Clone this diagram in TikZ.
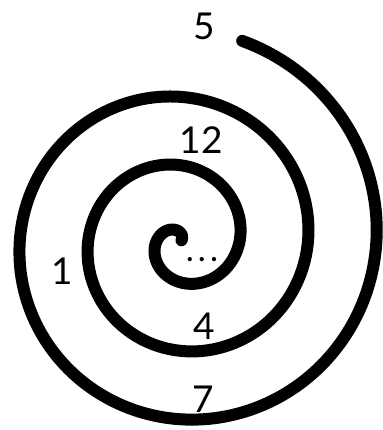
\documentclass[tikz,border=0pt]{standalone}
\usepackage{fontspec}
\setmainfont{Lato}
\begin{document}
\begin{tikzpicture}[x=1pt,y=1pt,
  lbl/.style={inner sep=0pt,font=\fontsize{37}{40}\selectfont},
  spiralline/.style={line width=12pt,line cap=round}]
\useasboundingbox (0,0) rectangle (382,430);
\draw[spiralline] plot[domain=56:1153,samples=500,variable=\t,smooth]
  ({181+(-9.8+0.19*\t)*cos(\t)},{189+(-9.8+0.19*\t)*sin(\t)});
\node[lbl] (n5) at (204,404) {5};
\node[lbl] (n12) at (201,289.5) {12};
\node[lbl] (n1) at (62.5,158.5) {1};
\node[lbl] (n4) at (204,104) {4};
\node[lbl] (n7) at (203,31) {7};
\node[inner sep=0pt] (dots) at (202,170) {\fontsize{34}{40}\selectfont .\kern4pt.\kern4pt.};
\end{tikzpicture}
\end{document}
